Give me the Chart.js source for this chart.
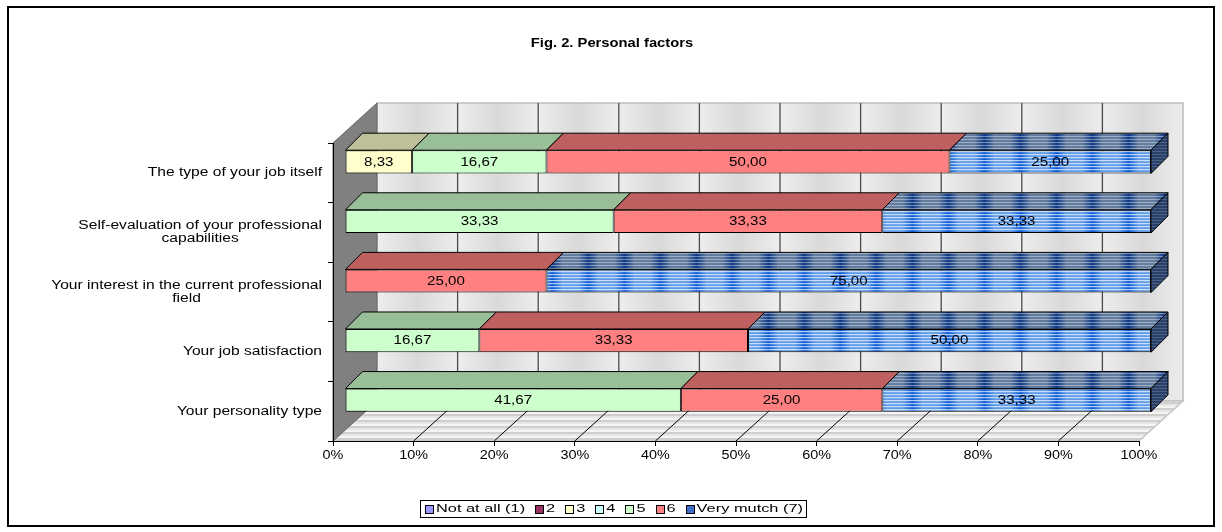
<!DOCTYPE html>
<html>
<head>
<meta charset="utf-8">
<script src="https://cdn.jsdelivr.net/npm/chart.js@4/dist/chart.umd.min.js"></script>
<style>html,body{margin:0;padding:0;background:#fff;overflow:hidden}canvas{display:block}</style>
</head>
<body>
<canvas id="c" width="1222" height="532"></canvas>
<script>
// ---------------- data ----------------
const chartTitle = "Fig. 2. Personal factors";
const categories = [
  ["The type of your job itself"],
  ["Self-evaluation of your professional", "capabilities"],
  ["Your interest in the current professional", "field"],
  ["Your job satisfaction"],
  ["Your personality type"]
];
const seriesNames = ["Not at all (1)", "2", "3", "4", "5", "6", "Very mutch (7)"];
const notAtAll = [0, 0, 0, 0, 0];
const score2   = [0, 0, 0, 0, 0];
const score3   = [8.33, 0, 0, 0, 0];
const score4   = [0, 0, 0, 0, 0];
const score5   = [16.67, 33.33, 0, 16.67, 41.67];
const score6   = [50.00, 33.33, 25.00, 33.33, 25.00];
const veryMuch = [25.00, 33.33, 75.00, 50.00, 33.33];
const tickLabels = ["0%", "10%", "20%", "30%", "40%", "50%", "60%", "70%", "80%", "90%", "100%"];

// ---------------- styles ----------------
const FONT = '"Liberation Sans", Arial, sans-serif';
const cv = document.getElementById('c');
const c2d = cv.getContext('2d');

function mix(a, b, t) { return a.map((v, i) => Math.round(v + (b[i] - v) * t)); }
function makePattern(w, h, fn) {
  const pc = document.createElement('canvas'); pc.width = w; pc.height = h;
  const g = pc.getContext('2d'); const img = g.createImageData(w, h);
  for (let y = 0; y < h; y++) for (let x = 0; x < w; x++) {
    const col = fn(x, y); const k = (y * w + x) * 4;
    img.data[k] = col[0]; img.data[k + 1] = col[1]; img.data[k + 2] = col[2]; img.data[k + 3] = 255;
  }
  g.putImageData(img, 0, 0);
  return c2d.createPattern(pc, 'repeat');
}
const PERIOD = 36;
function bandT(x) { const d = Math.min(x, PERIOD - x) / (PERIOD / 2); return Math.min(1, d * 1.8); }
const blueFront = makePattern(PERIOD, 3, (x, y) => {
  const base = mix([8, 88, 214], [96, 156, 232], bandT(x));
  if (y === 0) return mix(base, [255, 255, 255], 0.66);
  if (y === 1) return mix(base, [255, 255, 255], 0.14);
  return base;
});
const blueTop = makePattern(PERIOD, 3, (x, y) => {
  const base = mix([14, 58, 135], [100, 124, 158], bandT(x));
  if (y === 0) return mix(base, [225, 232, 242], 0.45);
  return base;
});
const blueSide = makePattern(4, 3, (x, y) => y === 0 ? [74, 96, 134] : [42, 64, 104]);
const floorPat = makePattern(8, 6, (x, y) => y < 2 ? [206, 206, 206] : (y < 4 ? [230, 230, 230] : [244, 244, 244]));

const FRONT = ['#9999FF', '#993366', '#FFFFCC', '#CCFFFF', '#CCFFCC', '#FF8080', blueFront];
const TOP   = ['#7373BF', '#732650', '#BFBF99', '#99BFBF', '#99BF99', '#BF6060', blueTop];
const SIDE  = ['#5C5C99', '#5C1F3D', '#99997A', '#7A9999', '#7A997A', '#994D4D', blueSide];
const SWATCH = ['#9999FF', '#993366', '#FFFFCC', '#CCFFFF', '#CCFFCC', '#FF8080', '#3F70C8'];
const GEO = { wallDX: 44, wallDY: 40, barDX: 12, barDY: 11, depth: 17 };

const seriesValues = [notAtAll, score2, score3, score4, score5, score6, veryMuch];

function stretchText(ctx, text, x, y, align, sx, font) {
  ctx.save();
  ctx.font = font;
  ctx.translate(x, y);
  ctx.scale(sx, 1);
  ctx.textAlign = align;
  ctx.textBaseline = 'middle';
  ctx.fillStyle = '#000';
  ctx.fillText(text, 0, 0);
  ctx.restore();
}
function poly(ctx, pts, fill) {
  ctx.beginPath();
  pts.forEach((p, i) => i ? ctx.lineTo(p[0], p[1]) : ctx.moveTo(p[0], p[1]));
  ctx.closePath();
  ctx.fillStyle = fill; ctx.fill();
  ctx.strokeStyle = '#000'; ctx.lineWidth = 1; ctx.stroke();
}

const scene = {
  id: 'scene',
  beforeDraw(chart) {
    const { ctx, chartArea: a, scales: { x } } = chart;
    const L = a.left, R = a.right, T = a.top, B = a.bottom, dx = GEO.wallDX, dy = GEO.wallDY;
    ctx.save();
    ctx.fillStyle = '#fff'; ctx.fillRect(0, 0, chart.width, chart.height);
    const px = x.ticks.map(t => x.getPixelForValue(t.value));
    // back wall
    for (let i = 0; i < px.length - 1; i++) {
      const x0 = px[i] + dx, x1 = px[i + 1] + dx;
      const g = ctx.createLinearGradient(x0, 0, x1, 0);
      g.addColorStop(0, '#ededed'); g.addColorStop(0.5, '#d9d9d9'); g.addColorStop(1, '#ededed');
      ctx.fillStyle = g; ctx.fillRect(x0, T - dy, x1 - x0, B - T);
    }
    ctx.strokeStyle = '#bdbdbd'; ctx.lineWidth = 1.5;
    ctx.strokeRect(L + dx, T - dy, R - L, B - T);
    ctx.strokeStyle = '#4a4a4a'; ctx.lineWidth = 1.3;
    px.forEach((p, i) => {
      if (i === 0 || i === px.length - 1) return;
      ctx.beginPath(); ctx.moveTo(p + dx, T - dy); ctx.lineTo(p + dx, B - dy); ctx.stroke();
    });
    // floor
    ctx.beginPath(); ctx.moveTo(L, B); ctx.lineTo(R, B); ctx.lineTo(R + dx, B - dy); ctx.lineTo(L + dx, B - dy); ctx.closePath();
    ctx.fillStyle = floorPat; ctx.fill();
    ctx.strokeStyle = '#c4c4c4'; ctx.lineWidth = 1.5; ctx.stroke();
    ctx.strokeStyle = '#000'; ctx.lineWidth = 1;
    px.forEach((p, i) => {
      if (i === 0 || i === px.length - 1) return;
      ctx.beginPath(); ctx.moveTo(p, B); ctx.lineTo(p + dx, B - dy); ctx.stroke();
    });
    // left wall
    ctx.beginPath(); ctx.moveTo(L, T); ctx.lineTo(L + dx, T - dy); ctx.lineTo(L + dx, B - dy); ctx.lineTo(L, B); ctx.closePath();
    ctx.fillStyle = '#808080'; ctx.fill();
    ctx.strokeStyle = '#666'; ctx.lineWidth = 1; ctx.stroke();
    ctx.restore();
  },
  beforeDatasetsDraw(chart) {
    chart.ctx.save();
    chart.ctx.translate(GEO.barDX, -GEO.barDY);
  },
  afterDatasetsDraw(chart) {
    const ctx = chart.ctx, D = GEO.depth;
    const n = chart.data.labels.length;
    const boxes = [];
    for (let i = 0; i < n; i++) {
      let last = -1;
      chart.data.datasets.forEach((ds, di) => { if (ds.data[i]) last = di; });
      chart.data.datasets.forEach((ds, di) => {
        const v = ds.data[i]; if (!v) return;
        const el = chart.getDatasetMeta(di).data[i];
        const l = Math.min(el.x, el.base), r = Math.max(el.x, el.base);
        const t = el.y - el.height / 2, b = el.y + el.height / 2;
        poly(ctx, [[l, t], [l + D, t - D], [r + D, t - D], [r, t]], TOP[di]);
        if (di === last) poly(ctx, [[r, t], [r + D, t - D], [r + D, b - D], [r, b]], SIDE[di]);
        boxes.push({ v, cx: (l + r) / 2, cy: el.y });
      });
    }
    boxes.forEach(bx => stretchText(ctx, bx.v.toFixed(2).replace('.', ','), bx.cx, bx.cy + 0.5, 'center', 1.26, '12px ' + FONT));
    ctx.restore();
  },
  afterDraw(chart) {
    const ctx = chart.ctx, { x, y } = chart.scales;
    ctx.save();
    // x tick labels
    x.ticks.forEach((t, i) => stretchText(ctx, tickLabels[i], x.getPixelForValue(t.value), 456, 'center', 1.2, '12px ' + FONT));
    // category labels
    ctx.font = '12px ' + FONT;
    categories.forEach((lines, i) => {
      const cy = y.getPixelForValue(i);
      const sx = 1.3;
      const bw = Math.max(...lines.map(s => ctx.measureText(s).width)) * sx;
      const cx = 322 - bw / 2;
      lines.forEach((s, j) => {
        const ly = cy + (j - (lines.length - 1) / 2) * 12.5;
        stretchText(ctx, s, cx, ly, 'center', sx, '12px ' + FONT);
      });
    });
    // title
    stretchText(ctx, chartTitle, 612, 44, 'center', 1.23, 'bold 12px ' + FONT);
    // legend
    const lf = '11px ' + FONT;
    ctx.font = lf;
    const lx0 = 420, lx1 = 806, ly0 = 500, ly1 = 517, box = 8, gapBT = 3, gapItem = 10, pad = 4;
    const tw = seriesNames.map(s => ctx.measureText(s).width);
    const avail = (lx1 - lx0) - 2 * pad - seriesNames.length * (box + gapBT) - (seriesNames.length - 1) * gapItem;
    const lsx = avail / tw.reduce((a, b) => a + b, 0);
    ctx.strokeStyle = '#000'; ctx.lineWidth = 1;
    ctx.strokeRect(lx0 + 0.5, ly0 + 0.5, lx1 - lx0, ly1 - ly0);
    let cxl = lx0 + pad + 1;
    const cyl = (ly0 + ly1) / 2 + 0.5;
    seriesNames.forEach((s, i) => {
      ctx.fillStyle = SWATCH[i];
      ctx.fillRect(Math.round(cxl) + 0.5, Math.round(cyl - box / 2) + 0.5, box, box);
      ctx.strokeStyle = '#000';
      ctx.strokeRect(Math.round(cxl) + 0.5, Math.round(cyl - box / 2) + 0.5, box, box);
      cxl += box + gapBT;
      stretchText(ctx, s, cxl, cyl, 'left', lsx, lf);
      cxl += tw[i] * lsx + gapItem;
    });
    // outer frame
    ctx.strokeStyle = '#000'; ctx.lineWidth = 2;
    ctx.strokeRect(8, 7, 1206, 519);
    ctx.restore();
  }
};

Chart.defaults.font.family = FONT;
new Chart(cv, {
  type: 'bar',
  data: {
    labels: categories.map(c => c.join(' ')),
    datasets: seriesNames.map((name, i) => ({
      label: name,
      data: seriesValues[i],
      backgroundColor: FRONT[i],
      borderColor: '#000',
      borderWidth: (c) => (c.raw ? 1 : 0),
      borderSkipped: false,
      clip: false,
      barPercentage: 1,
      categoryPercentage: 0.39
    }))
  },
  options: {
    indexAxis: 'y',
    responsive: false,
    animation: false,
    devicePixelRatio: 1,
    layout: { padding: { top: 143, left: 293, right: 83, bottom: 61 } },
    plugins: { legend: { display: false }, title: { display: false }, tooltip: { enabled: false } },
    scales: {
      x: {
        type: 'linear', stacked: true, min: 0, max: 100,
        ticks: { display: false, stepSize: 10 },
        grid: { drawOnChartArea: false, drawTicks: true, tickLength: 5, color: '#000' },
        border: { display: true, color: '#000', width: 1 },
        afterFit(s) { s.height = 30; }
      },
      y: {
        type: 'category', stacked: true,
        ticks: { display: false },
        grid: { drawOnChartArea: false, drawTicks: true, tickLength: 5, color: '#000', offset: true },
        border: { display: true, color: '#000', width: 1 },
        afterFit(s) { s.width = 40; }
      }
    }
  },
  plugins: [scene]
});
</script>
</body>
</html>
